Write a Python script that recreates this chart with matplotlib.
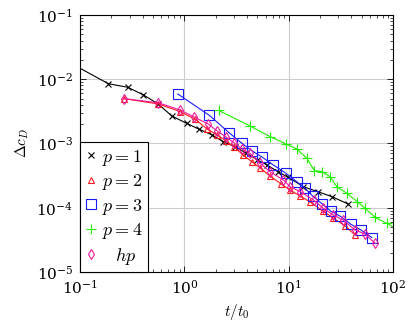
import numpy as np
import matplotlib
matplotlib.use('Agg')
import matplotlib.pyplot as plt
from matplotlib.lines import Line2D

# p = 1
t_p1 = [0.08, 0.187, 0.286, 0.404, 0.563, 0.757, 1.05, 1.39, 1.84, 2.35, 3.06, 3.91,
        4.98, 6.21, 7.91, 9.94, 13.8, 19.0, 25.9, 37.3]
c_p1 = [1.8e-2, 8.5e-3, 7.5e-3, 5.7e-3, 4.1e-3, 2.68e-3, 2.06e-3, 1.66e-3, 1.36e-3, 1.07e-3,
        8.9e-4, 7.1e-4, 5.6e-4, 4.6e-4, 3.64e-4, 2.96e-4, 2.13e-4, 1.78e-4, 1.49e-4, 1.14e-4]

# p = 2
t_p2 = [0.261, 0.563, 0.91, 1.27, 1.65, 2.06, 2.51, 3.00, 3.66, 4.46, 5.32, 6.63, 8.46,
        10.3, 12.9, 16.0, 21.4, 26.7, 34.8, 43.4]
c_p2 = [5.0e-3, 4.12e-3, 3.13e-3, 2.38e-3, 1.68e-3, 1.36e-3, 1.09e-3, 8.8e-4, 6.6e-4, 5.15e-4,
        4.16e-4, 3.12e-4, 2.34e-4, 1.89e-4, 1.52e-4, 1.23e-4, 8.9e-5, 6.9e-5, 5.2e-5, 3.76e-5]

# p = 3
t_p3 = [0.865, 1.74, 2.67, 3.55, 4.49, 5.52, 7.01, 9.34, 11.96, 14.4, 17.1, 20.8, 25.2,
        31.1, 39.7, 49.4, 62.6]
c_p3 = [5.89e-3, 2.73e-3, 1.48e-3, 1.01e-3, 7.6e-4, 6.2e-4, 4.71e-4, 3.47e-4, 2.54e-4, 2.01e-4,
        1.50e-4, 1.16e-4, 8.9e-5, 7.4e-5, 5.5e-5, 4.5e-5, 3.44e-5]

# p = 4
t_p4 = [2.13, 4.27, 6.63, 9.45, 11.96, 14.9, 17.6, 21.0, 24.9, 28.9, 36.1, 45.6, 54.0,
        67.4, 87.3, 120.0]
c_p4 = [3.27e-3, 1.87e-3, 1.28e-3, 9.8e-4, 8.2e-4, 5.9e-4, 3.78e-4, 3.64e-4, 3.04e-4, 2.13e-4,
        1.68e-4, 1.24e-4, 9.8e-5, 7.1e-5, 5.7e-5, 4.3e-5]

# hp
t_hp = [0.261, 0.563, 0.91, 1.24, 1.69, 2.06, 2.51, 3.00, 3.57, 4.27, 5.32, 6.63, 8.9,
        10.3, 12.9, 17.3, 21.5, 26.8, 33.4, 43.4, 54.0, 67.4]
c_hp = [5.0e-3, 4.3e-3, 3.32e-3, 2.58e-3, 2.01e-3, 1.57e-3, 1.26e-3, 1.02e-3, 8.2e-4, 7.0e-4,
        4.92e-4, 3.64e-4, 2.70e-4, 2.13e-4, 1.78e-4, 1.32e-4, 9.8e-5, 7.7e-5, 6.4e-5, 4.5e-5,
        3.9e-5, 2.8e-5]

labels = [r'$p=1$', r'$p=2$', r'$p=3$', r'$p=4$', r'$\;\;\;hp$']
colors = ['black', '#ff1a1a', '#1a1aff', '#22ee00', '#f0189a']
markers = ['x', '^', 's', '+', 'd']
msizes = [4.5, 5, 7, 6.5, 5.5]

plt.rcParams['mathtext.fontset'] = 'cm'
plt.rcParams['font.family'] = 'serif'
plt.rcParams['font.serif'] = ['DejaVu Serif']

fig = plt.figure(figsize=(4.15, 3.25), dpi=100)
ax = fig.add_axes([0.193, 0.163, 0.754, 0.791])

series = [(t_p1, c_p1), (t_p2, c_p2), (t_p3, c_p3), (t_p4, c_p4), (t_hp, c_hp)]
handles = []
for (t, c), col, mk, ms in zip(series, colors, markers, msizes):
    mfc = col if mk in ('x', '+') else 'none'
    ax.plot(t, c, color=col, lw=0.8, marker=mk, ms=ms, mfc=mfc, mew=0.8)
    handles.append(Line2D([], [], ls='none', color=col, marker=mk, ms=ms, mfc=mfc, mew=0.8))

ax.set_xscale('log')
ax.set_yscale('log')
ax.set_xlim(0.1, 100)
ax.set_ylim(1e-5, 1e-1)
ax.grid(True, which='major', color='#cccccc', lw=0.8)
ax.set_axisbelow(True)
ax.tick_params(which='both', direction='in', top=True, right=True, labelsize=11)
ax.tick_params(which='major', length=4, width=0.6, pad=5)
ax.tick_params(which='minor', length=2.2, width=0.5)
for s in ax.spines.values():
    s.set_linewidth(0.8)

ax.set_xlabel(r'$t/t_0$', fontsize=11)
ax.set_ylabel(r'$\Delta c_D$', fontsize=11)

leg = ax.legend(handles, labels, loc='lower left', borderaxespad=0, fancybox=False,
                edgecolor='black', framealpha=1, fontsize=13, handlelength=0.6,
                handletextpad=0.3, labelspacing=0.25, borderpad=0.3)
leg.get_frame().set_linewidth(0.8)

fig.savefig('out.png', dpi=100)
